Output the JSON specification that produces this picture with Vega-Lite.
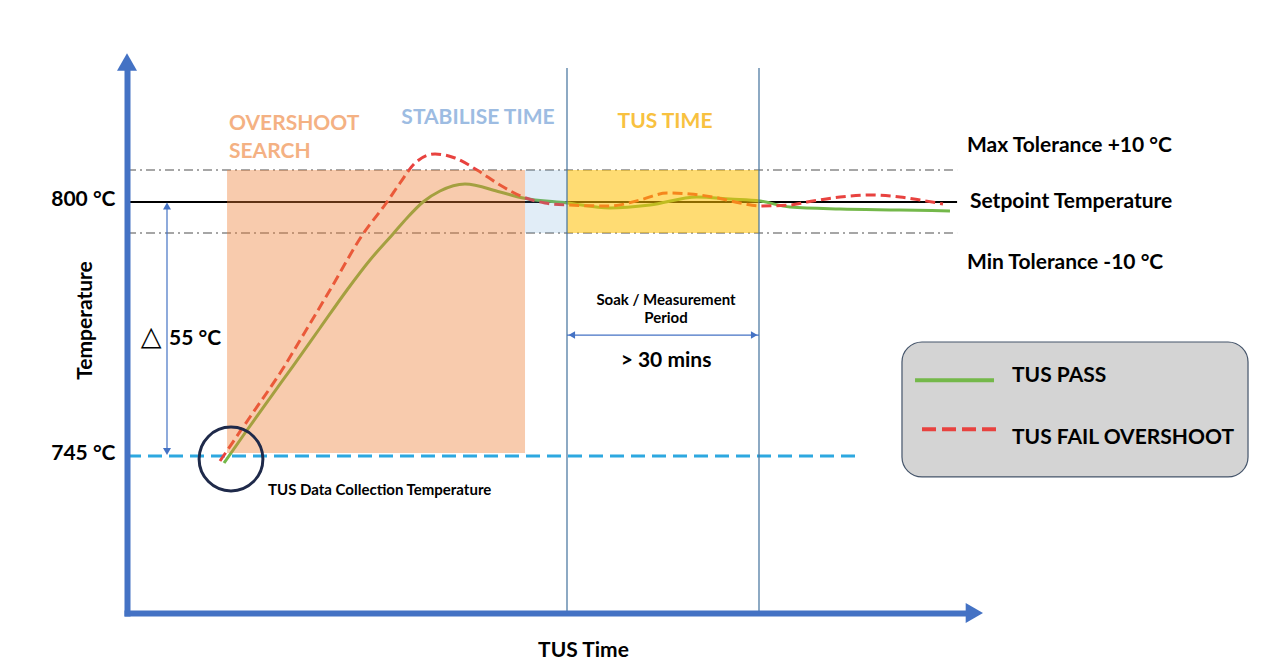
{
  "$schema": "https://vega.github.io/schema/vega-lite/v6.json",
  "width": 840,
  "height": 542,
  "autosize": {"type": "none"},
  "padding": {"left": 127, "top": 71, "right": 313, "bottom": 57},
  "background": "white",
  "config": {"view": {"stroke": null}, "font": "Lato"},
  "encoding": {
    "x": {
      "field": "t", "type": "quantitative",
      "scale": {"domain": [0, 131.25], "nice": false, "zero": false},
      "axis": {"title": "TUS Time", "labels": false, "ticks": false, "tickSize": 0, "grid": false,
        "domainColor": "#4472C4", "domainWidth": 6, "domainCap": "square",
        "titleFont": "Lato", "titleFontSize": 21, "titleFontWeight": "bold", "titleColor": "#000000",
        "titleX": 456, "titleY": 37, "titleAlign": "center", "titleBaseline": "middle", "zindex": 1}
    },
    "y": {
      "field": "temp", "type": "quantitative",
      "scale": {"domain": [712, 745, 790, 800, 810, 840], "range": [542, 385, 162, 131, 99, 0], "nice": false, "zero": false},
      "axis": {"title": "Temperature", "values": [745, 800], "labelExpr": "datum.value + ' °C'",
        "ticks": false, "tickSize": 0, "grid": false,
        "domainColor": "#4472C4", "domainWidth": 6, "domainCap": "square",
        "labelFont": "Lato", "labelFontSize": 21, "labelFontWeight": "bold", "labelColor": "#000000",
        "labelPadding": 12, "labelOffset": -3, "labelOverlap": false,
        "titleFont": "Lato", "titleFontSize": 21, "titleFontWeight": "bold", "titleColor": "#000000",
        "titleX": -42, "titleY": 249, "titleAngle": -90, "titleAlign": "center", "titleBaseline": "middle", "zindex": 1}
    }
  },
  "layer": [
    {
      "data": {"values": [
        {"line": "Max Tolerance", "t": 0, "t2": 129.7, "temp": 810},
        {"line": "Min Tolerance", "t": 0, "t2": 129.7, "temp": 790}
      ]},
      "mark": {"type": "rule", "stroke": "#A6A6A6", "strokeWidth": 2, "strokeDash": [9, 4, 2, 4]},
      "encoding": {"x2": {"field": "t2"}}
    },
    {
      "data": {"values": [{"line": "Setpoint", "t": 0, "t2": 129.7, "temp": 800}]},
      "mark": {"type": "rule", "stroke": "#000000", "strokeWidth": 2},
      "encoding": {"x2": {"field": "t2"}}
    },
    {
      "data": {"values": [{"line": "Data collection", "t": 0, "t2": 113.75, "temp": 745}]},
      "mark": {"type": "rule", "stroke": "#2DA8E0", "strokeWidth": 3, "strokeDash": [14, 7]},
      "encoding": {"x2": {"field": "t2"}}
    },
    {
      "data": {"values": [
        {"t": 15.16, "temp": 743.53}, {"t": 18.44, "temp": 749.64}, {"t": 22.34, "temp": 756.7},
        {"t": 25.94, "temp": 763.16}, {"t": 30.16, "temp": 770.83}, {"t": 34.38, "temp": 778.5},
        {"t": 37.97, "temp": 784.55}, {"t": 41.56, "temp": 789.8}, {"t": 43.75, "temp": 794.84},
        {"t": 46.25, "temp": 800}, {"t": 48.91, "temp": 803.44}, {"t": 52.81, "temp": 805.63},
        {"t": 58.28, "temp": 803.13}, {"t": 61.88, "temp": 801.25}, {"t": 68.75, "temp": 799.68},
        {"t": 75.47, "temp": 798.06}, {"t": 81.72, "temp": 799.03}, {"t": 89.06, "temp": 801.56},
        {"t": 94.22, "temp": 800.94}, {"t": 98.91, "temp": 800.31}, {"t": 103.59, "temp": 798.39},
        {"t": 111.41, "temp": 797.74}, {"t": 120.78, "temp": 797.42}, {"t": 128.59, "temp": 797.1}
      ]},
      "mark": {"type": "line", "interpolate": "monotone", "stroke": "#74B84A", "strokeWidth": 3}
    },
    {
      "data": {"values": [
        {"t": 14.53, "temp": 743.95}, {"t": 19.22, "temp": 752.87}, {"t": 24.22, "temp": 762.35},
        {"t": 27.81, "temp": 770.02}, {"t": 31.72, "temp": 778.5}, {"t": 36.88, "temp": 789.8},
        {"t": 40.63, "temp": 800}, {"t": 42.66, "temp": 805.94}, {"t": 45, "temp": 812.12},
        {"t": 48.13, "temp": 814.85}, {"t": 51.25, "temp": 813.64}, {"t": 54.69, "temp": 810},
        {"t": 58.28, "temp": 805.31}, {"t": 61.88, "temp": 801.56}, {"t": 65.31, "temp": 799.68},
        {"t": 68.75, "temp": 799.03}, {"t": 75.47, "temp": 798.71}, {"t": 80.16, "temp": 800.63},
        {"t": 84.38, "temp": 802.81}, {"t": 87.97, "temp": 802.5}, {"t": 91.56, "temp": 801.56},
        {"t": 95.78, "temp": 799.68}, {"t": 98.91, "temp": 798.71}, {"t": 103.59, "temp": 799.03},
        {"t": 106.25, "temp": 800}, {"t": 111.41, "temp": 801.56}, {"t": 116.09, "temp": 802.19},
        {"t": 120.78, "temp": 801.56}, {"t": 123.91, "temp": 800.63}, {"t": 127.5, "temp": 799.35}
      ]},
      "mark": {"type": "line", "interpolate": "monotone", "stroke": "#E8423F", "strokeWidth": 3, "strokeDash": [10, 5]}
    },
    {
      "data": {"values": [{"zone": "Overshoot search", "t": 15.63, "t2": 62.19, "temp": 810, "temp2": 745.6}]},
      "mark": {"type": "rect", "fill": "#ED7D31", "opacity": 0.4},
      "encoding": {"x2": {"field": "t2"}, "y2": {"field": "temp2"}}
    },
    {
      "data": {"values": [{"zone": "Stabilise time", "t": 62.19, "t2": 68.75, "temp": 810, "temp2": 790}]},
      "mark": {"type": "rect", "fill": "#5B9BD5", "opacity": 0.18},
      "encoding": {"x2": {"field": "t2"}, "y2": {"field": "temp2"}}
    },
    {
      "data": {"values": [{"zone": "TUS time", "t": 68.75, "t2": 98.75, "temp": 810, "temp2": 790}]},
      "mark": {"type": "rect", "fill": "#FFC000", "opacity": 0.55},
      "encoding": {"x2": {"field": "t2"}, "y2": {"field": "temp2"}}
    },
    {
      "data": {"values": [
        {"edge": "TUS start", "t": 68.75, "temp": 840.9, "temp2": 712},
        {"edge": "TUS end", "t": 98.75, "temp": 840.9, "temp2": 712}
      ]},
      "mark": {"type": "rule", "stroke": "#41719C", "strokeWidth": 1.2},
      "encoding": {"y2": {"field": "temp2"}}
    },
    {
      "data": {"values": [{"span": "delta", "t": 6.25, "temp": 799, "temp2": 746}]},
      "mark": {"type": "rule", "stroke": "#4472C4", "strokeWidth": 1.2},
      "encoding": {"y2": {"field": "temp2"}}
    },
    {
      "data": {"values": [{"end": "top", "t": 6.25, "temp": 798.7}]},
      "mark": {"type": "point", "shape": "triangle-up", "filled": true, "size": 64, "color": "#4472C4", "opacity": 1}
    },
    {
      "data": {"values": [{"end": "bottom", "t": 6.25, "temp": 745.9}]},
      "mark": {"type": "point", "shape": "triangle-down", "filled": true, "size": 64, "color": "#4472C4", "opacity": 1}
    },
    {
      "data": {"values": [{"span": "soak", "t": 68.75, "t2": 98.75, "temp": 769.4}]},
      "mark": {"type": "rule", "stroke": "#4472C4", "strokeWidth": 1.2},
      "encoding": {"x2": {"field": "t2"}}
    },
    {
      "data": {"values": [{"end": "left", "t": 69.5, "temp": 769.4}]},
      "mark": {"type": "point", "shape": "triangle-left", "filled": true, "size": 56, "color": "#4472C4", "opacity": 1}
    },
    {
      "data": {"values": [{"end": "right", "t": 98.0, "temp": 769.4}]},
      "mark": {"type": "point", "shape": "triangle-right", "filled": true, "size": 56, "color": "#4472C4", "opacity": 1}
    },
    {
      "data": {"values": [{"mark": "data collection start", "t": 16.25, "temp": 744.37}]},
      "mark": {"type": "point", "shape": "circle", "filled": false, "size": 4072, "stroke": "#1F2A4A", "strokeWidth": 3, "opacity": 1}
    },
    {
      "data": {"values": [{"box": "legend", "t": 121.09, "t2": 175.16, "temp": 768.0, "temp2": 740.6}]},
      "mark": {"type": "rect", "fill": "#D4D4D4", "stroke": "#44546A", "strokeWidth": 1.2, "cornerRadius": 20},
      "encoding": {"x2": {"field": "t2"}, "y2": {"field": "temp2"}}
    },
    {
      "data": {"values": [{"series": "TUS PASS", "t": 123.13, "t2": 135.47, "temp": 760.3}]},
      "mark": {"type": "rule", "stroke": "#74B84A", "strokeWidth": 4},
      "encoding": {"x2": {"field": "t2"}}
    },
    {
      "data": {"values": [{"series": "TUS FAIL OVERSHOOT", "t": 124.22, "t2": 135.78, "temp": 750.4}]},
      "mark": {"type": "rule", "stroke": "#E8423F", "strokeWidth": 4, "strokeDash": [14, 6]},
      "encoding": {"x2": {"field": "t2"}}
    },
    {
      "data": {"values": [{"end": "y arrow", "t": 0, "temp": 842.73}]},
      "mark": {"type": "point", "shape": "triangle-up", "filled": true, "size": 400, "color": "#4472C4", "opacity": 1}
    },
    {
      "data": {"values": [{"end": "x arrow", "t": 132.4, "temp": 712}]},
      "mark": {"type": "point", "shape": "triangle-right", "filled": true, "size": 400, "color": "#4472C4", "opacity": 1}
    },
    {
      "data": {"values": [
        {"label": "Max Tolerance +10 °C", "t": 131.25, "temp": 817.3},
        {"label": "Setpoint Temperature", "t": 131.72, "temp": 800},
        {"label": "Min Tolerance -10 °C", "t": 131.25, "temp": 783.9},
        {"label": "55 °C", "t": 6.56, "temp": 768.6},
        {"label": "TUS PASS", "t": 138.28, "temp": 761.1},
        {"label": "TUS FAIL OVERSHOOT", "t": 138.28, "temp": 748.6}
      ]},
      "mark": {"type": "text", "align": "left", "baseline": "middle", "font": "Lato", "fontSize": 21, "fontWeight": "bold", "color": "#000000"},
      "encoding": {"text": {"field": "label"}}
    },
    {
      "data": {"values": [{"label": "> 30 mins", "t": 84.22, "temp": 764.2}]},
      "mark": {"type": "text", "align": "center", "baseline": "middle", "font": "Lato", "fontSize": 21, "fontWeight": "bold", "color": "#000000"},
      "encoding": {"text": {"field": "label"}}
    },
    {
      "data": {"values": [
        {"label": "Soak / Measurement", "t": 84.22, "temp": 776.5},
        {"label": "Period", "t": 84.22, "temp": 772.8}
      ]},
      "mark": {"type": "text", "align": "center", "baseline": "middle", "font": "Lato", "fontSize": 15, "fontWeight": "bold", "color": "#000000"},
      "encoding": {"text": {"field": "label"}}
    },
    {
      "data": {"values": [{"label": "TUS Data Collection Temperature", "t": 22.03, "temp": 737.85}]},
      "mark": {"type": "text", "align": "left", "baseline": "middle", "font": "Lato", "fontSize": 15, "fontWeight": "bold", "color": "#000000"},
      "encoding": {"text": {"field": "label"}}
    },
    {
      "data": {"values": [
        {"label": "OVERSHOOT", "t": 15.94, "temp": 823.9},
        {"label": "SEARCH", "t": 15.94, "temp": 815.5}
      ]},
      "mark": {"type": "text", "align": "left", "baseline": "middle", "font": "Lato", "fontSize": 21, "fontWeight": "bold", "color": "#F4B183"},
      "encoding": {"text": {"field": "label"}}
    },
    {
      "data": {"values": [{"label": "STABILISE TIME", "t": 54.84, "temp": 825.8}]},
      "mark": {"type": "text", "align": "center", "baseline": "middle", "font": "Lato", "fontSize": 21, "fontWeight": "bold", "color": "#9DBCE2"},
      "encoding": {"text": {"field": "label"}}
    },
    {
      "data": {"values": [{"label": "TUS TIME", "t": 84.06, "temp": 824.5}]},
      "mark": {"type": "text", "align": "center", "baseline": "middle", "font": "Lato", "fontSize": 21, "fontWeight": "bold", "color": "#F8C140"},
      "encoding": {"text": {"field": "label"}}
    },
    {
      "data": {"values": [{"label": "△", "t": 3.75, "temp": 769.0}]},
      "mark": {"type": "text", "align": "center", "baseline": "middle", "font": "DejaVu Sans", "fontSize": 27, "color": "#000000"},
      "encoding": {"text": {"field": "label"}}
    }
  ]
}
